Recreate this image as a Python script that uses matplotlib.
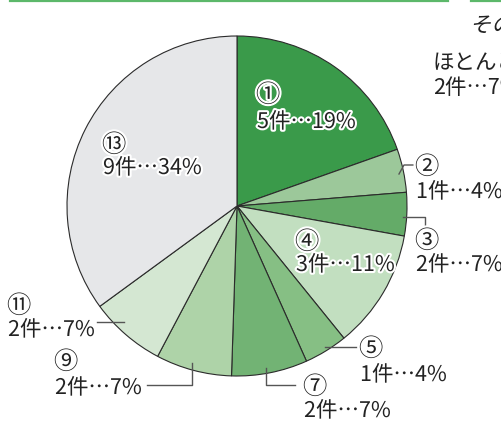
import matplotlib
matplotlib.use('Agg')
import matplotlib.pyplot as plt
import matplotlib.patheffects as pe
from matplotlib.textpath import TextPath
from matplotlib.font_manager import FontProperties
from matplotlib.patches import PathPatch
from matplotlib.transforms import Affine2D

plt.rcParams['font.family'] = ['Noto Sans CJK JP', 'DejaVu Sans']

# Data (wedge sizes, labels as printed)
marks = ['①', '②', '③', '④', '⑤', '⑦', '⑨', '⑪', '⑬']
shares = [19, 4, 4, 11, 4, 7, 7, 7, 34]
label_text = ['5件…19%', '1件…4%', '2件…7%', '3件…11%', '1件…4%',
              '2件…7%', '2件…7%', '2件…7%', '9件…34%']
colors = ['#3a9a4a', '#9cc89a', '#64ab68', '#c2dfc0', '#86bf84',
          '#72b374', '#aed3a8', '#d4e7d2', '#e6e7e9']

W, H = 502, 421
fig = plt.figure(figsize=(W / 100, H / 100), dpi=100)
ax = fig.add_axes([0, 0, 1, 1])

def Y(y):
    # pixel row -> data y
    return H - y

cx, cy, r = 237, 206, 170
ax.pie(shares, colors=colors, startangle=90, counterclock=False,
       center=(cx, Y(cy)), radius=r,
       wedgeprops=dict(edgecolor='#2b2b2b', linewidth=0.8))
ax.set_xlim(0, W)
ax.set_ylim(0, H)
ax.set_aspect('equal')
ax.axis('off')

# top rule
ax.plot([10, 448], [Y(0.6), Y(0.6)], color='#5cb86a', lw=1.6, clip_on=False)
ax.plot([471, 502], [Y(0.6), Y(0.6)], color='#5cb86a', lw=1.6, clip_on=False)

# label positions (left x, mark y, text y)
pos = [(257, 95, 122), (416, 167, 192), (416, 241, 265), (296, 242, 265),
       (360, 349, 375), (304, 387, 411), (55, 362, 388), (8, 306, 330),
       (103, 145, 168)]

halo = [pe.withStroke(linewidth=3, foreground='white')]
fs = 15.5
for m, t, (x, ym, yt) in zip(marks, label_text, pos):
    ax.text(x - 1, Y(ym), m, fontsize=17.5, color='#222222', va='center', ha='left',
            path_effects=halo)
    ax.text(x, Y(yt), t, fontsize=fs, color='#222222', va='center', ha='left',
            path_effects=halo)

# leader lines
lc = '#555555'
lw = 1.0
leaders = [
    ([399, 404, 413], [174, 165, 165]),
    ([403, 425, 425], [217, 217, 225]),
    ([325, 356], [347, 347]),
    ([266, 266, 295], [368, 385, 385]),
    ([192, 192, 147], [363, 385, 385]),
    ([97, 124], [322, 322]),
]
for xs, ys in leaders:
    ax.plot(xs, [Y(v) for v in ys], color=lc, lw=lw)

# right side texts (cut off by the figure edge as in the original)
ax.text(433, Y(63), 'ほとんど', fontsize=fs, color='#222222', va='center', ha='left')
ax.text(433, Y(88), '2件…7%', fontsize=fs, color='#222222', va='center', ha='left')

# italic "その他" drawn as a slanted text path
tp = TextPath((0, 0), 'その他', size=fs * 1.389,
              prop=FontProperties(family='Noto Sans CJK JP'))
tr = Affine2D().skew_deg(12, 0).translate(470, Y(32))
ax.add_patch(PathPatch(tr.transform_path(tp), facecolor='#222222',
                       edgecolor='none', clip_on=False))

fig.savefig('out.png', dpi=100)
